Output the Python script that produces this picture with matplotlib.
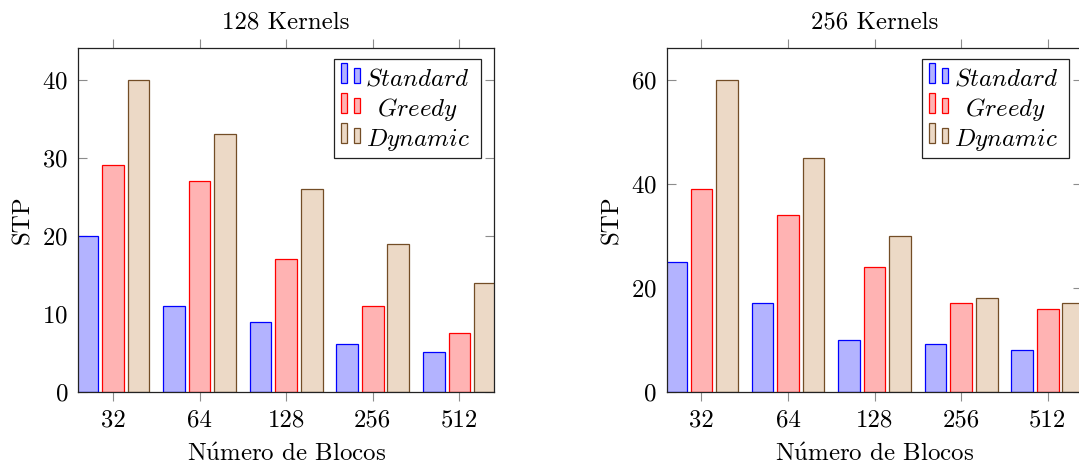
import matplotlib
matplotlib.use("Agg")
import matplotlib.pyplot as plt
from matplotlib.patches import Rectangle
import numpy as np

plt.rcParams['font.family'] = ['cmr10', 'DejaVu Serif']
plt.rcParams['mathtext.fontset'] = 'cm'
plt.rcParams['axes.formatter.use_mathtext'] = True
plt.rcParams['axes.unicode_minus'] = False

# ---- data ----
categories = ['32', '64', '128', '256', '512']
series_names = ['Standard', 'Greedy', 'Dynamic']

k128_standard = [20, 11, 9, 6.2, 5.1]
k128_greedy = [29, 27, 17, 11, 7.5]
k128_dynamic = [40, 33, 26, 19, 14]

k256_standard = [25, 17, 10, 9.3, 8]
k256_greedy = [39, 34, 24, 17, 16]
k256_dynamic = [60, 45, 30, 18, 17]

titles = ['128 Kernels', '256 Kernels']
yticks_left = [0, 10, 20, 30, 40]
yticks_right = [0, 20, 40, 60]
ylims = [(0, 44), (0, 66)]

fills = ['#b3b3ff', '#ffb3b3', '#ecd9c6']
edges = ['#0000ff', '#ff0000', '#734d26']

FS = 17.9
W, H = 1079, 468
fig = plt.figure(figsize=(W / 100, H / 100), dpi=100)

AXW = 415.7
AXH = 343.7
ax_lefts = [78.3, 666.7]
ax_top = 48.3
axes = []
for left in ax_lefts:
    axes.append(fig.add_axes([left / W, 1 - (ax_top + AXH) / H, AXW / W, AXH / H]))

data = [
    [k128_standard, k128_greedy, k128_dynamic],
    [k256_standard, k256_greedy, k256_dynamic],
]
yticks_all = [yticks_left, yticks_right]

x = np.arange(len(categories))
bw = 0.25
off = 0.295

for p, ax in enumerate(axes):
    for k, vals in enumerate(data[p]):
        ax.bar(x + (k - 1) * off, vals, width=bw, color=fills[k],
               edgecolor=edges[k], linewidth=0.9, zorder=2)
    ax.set_xlim(-0.4, 4.4)
    ax.set_ylim(*ylims[p])
    ax.set_xticks(x)
    ax.set_xticklabels(categories)
    ax.set_yticks(yticks_all[p])
    ax.tick_params(axis='x', which='both', direction='out', length=6.5,
                   width=0.8, color='#8c8c8c', top=True, labeltop=False,
                   labelsize=FS, pad=6.3)
    ax.tick_params(axis='y', which='both', direction='in', length=6.5,
                   width=0.8, color='#8c8c8c', right=True, labelright=False,
                   labelsize=FS, pad=7.2)
    for s in ax.spines.values():
        s.set_linewidth(0.9)
        s.set_color('#222222')
        s.set_zorder(3)

    ax.set_title(titles[p], fontsize=FS, y=(392 - 28.3) / AXH, pad=0,
                 va='baseline')
    ax.set_xlabel(r'N$\acute{\mathrm{u}}$mero de Blocos', fontsize=FS)
    ax.xaxis.set_label_coords(0.5, (392 - 461) / AXH)
    ax.xaxis.label.set_va('baseline')
    ax.set_ylabel('STP', fontsize=FS)
    ax.yaxis.set_label_coords((29.3 - 78.3) / AXW, 0.5)
    ax.yaxis.label.set_va('baseline')

    # legend (pgfplots style, centred entries)
    def fx(dx):
        return 1 + dx / AXW

    def fy(dy):
        return 1 - dy / AXH

    box_l, box_r, box_t, box_b = -160.0, -13.3, 11.0, 110.0
    ax.add_patch(Rectangle((fx(box_l), fy(box_b)), (box_r - box_l) / AXW,
                           (box_b - box_t) / AXH, transform=ax.transAxes,
                           facecolor='white', edgecolor='#222222',
                           linewidth=0.9, zorder=5, clip_on=False))
    for i, name in enumerate(series_names):
        t0 = box_t + 30 * i
        for (x0, x1, top) in [(6.7, 12.7, 4.0), (19.7, 26.0, 9.0)]:
            ax.add_patch(Rectangle((fx(box_l + x0), fy(t0 + 24.0)),
                                   (x1 - x0) / AXW, (24.0 - top) / AXH,
                                   transform=ax.transAxes,
                                   facecolor=fills[i], edgecolor=edges[i],
                                   linewidth=0.9, zorder=6, clip_on=False))
        ax.text(fx(box_l + 83.5), fy(t0 + 26.7), '$' + name + '$',
                transform=ax.transAxes, ha='center', va='baseline',
                fontsize=FS, zorder=7)

fig.savefig('out.png', dpi=100)
